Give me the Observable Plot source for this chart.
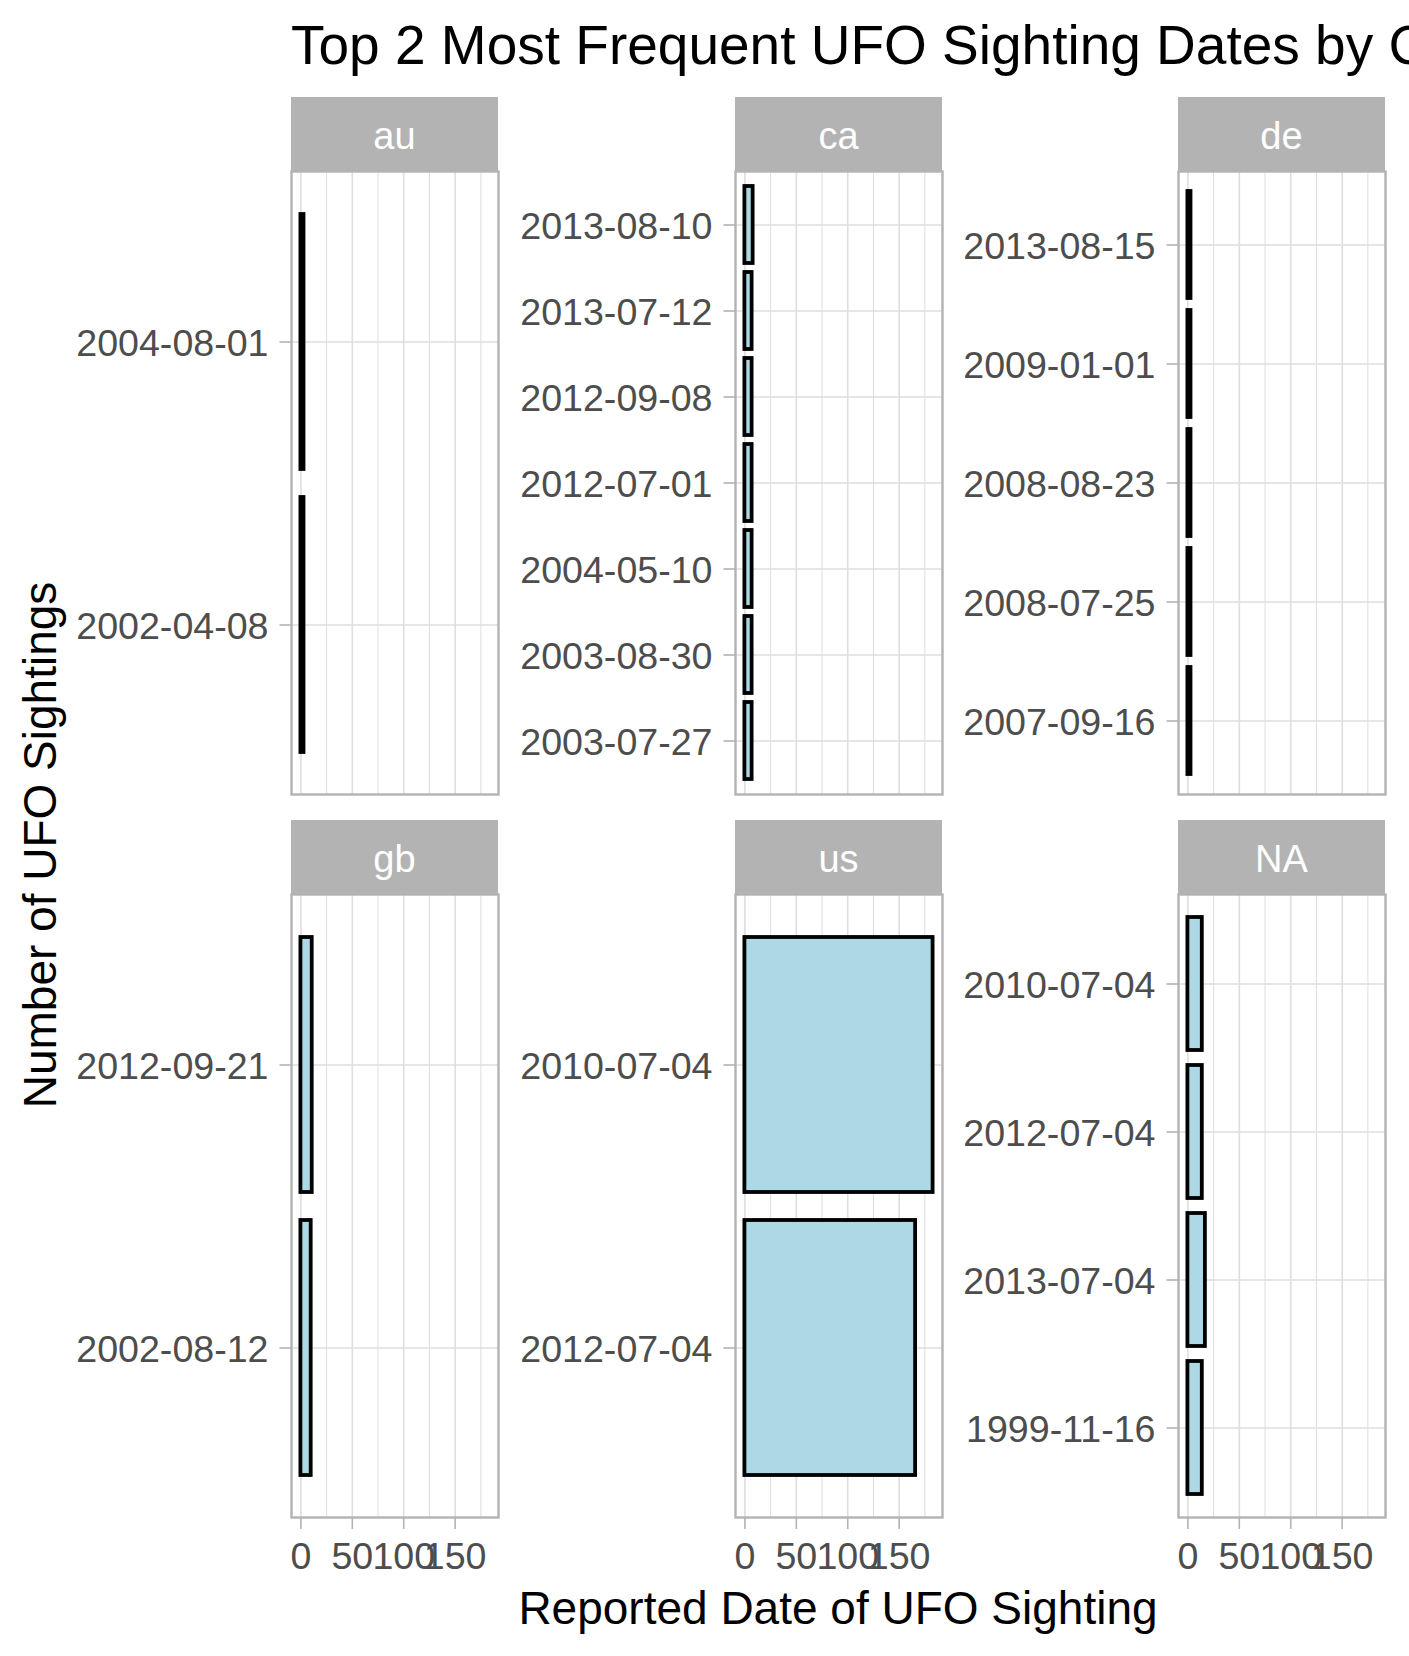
<!DOCTYPE html>
<html><head><meta charset="utf-8">
<script src="https://cdn.jsdelivr.net/npm/d3@7"></script>
<script src="https://cdn.jsdelivr.net/npm/@observablehq/plot@0.6"></script>
<style>
html,body{margin:0;padding:0;background:#fff;overflow:hidden;}
#chart{position:relative;width:1409px;height:1656px;font-family:"Liberation Sans",Arial,sans-serif;overflow:hidden;background:#fff;}
.abs{position:absolute;white-space:nowrap;line-height:1;}
.strip{position:absolute;background:#B3B3B3;color:#fff;font-size:38px;display:flex;align-items:center;justify-content:center;line-height:1;box-sizing:border-box;padding-top:4px;}
</style></head><body><div id="chart"></div>
<script>
// ---- data ----
const countries = ["au", "ca", "de", "gb", "us", "NA"];
const auDates = ["2004-08-01", "2002-04-08"];
const auCounts = [3, 3];
const caDates = ["2013-08-10", "2013-07-12", "2012-09-08", "2012-07-01", "2004-05-10", "2003-08-30", "2003-07-27"];
const caCounts = [8, 7, 7, 7, 7, 7, 7];
const deDates = ["2013-08-15", "2009-01-01", "2008-08-23", "2008-07-25", "2007-09-16"];
const deCounts = [3, 3, 3, 3, 3];
const gbDates = ["2012-09-21", "2002-08-12"];
const gbCounts = [11, 10];
const usDates = ["2010-07-04", "2012-07-04"];
const usCounts = [183, 166];
const naDates = ["2010-07-04", "2012-07-04", "2013-07-04", "1999-11-16"];
const naCounts = [14, 14, 17, 14];
const xTicks = [0, 50, 100, 150];
const xMinorTicks = [25, 75, 125, 175];

const titleText = "Top 2 Most Frequent UFO Sighting Dates by Country";
const xTitle = "Reported Date of UFO Sighting";
const yTitle = "Number of UFO Sightings";

const panelDates = [auDates, caDates, deDates, gbDates, usDates, naDates];
const panelCounts = [auCounts, caCounts, deCounts, gbCounts, usCounts, naCounts];

// ---- layout ----
const panelLeft = [291, 735, 1178];
const stripTop = [97, 820];
const stripH = 74;
const panelW = 207;
const panelH = 623;
const ML = 260, MB = 80;
const font = "Liberation Sans, Arial, sans-serif";

const chart = document.getElementById("chart");

const allMax = d3.max(panelCounts.flat());
const xDomain = [-0.05 * allMax, 1.05 * allMax];

countries.forEach((c, i) => {
  const col = i % 3, row = Math.floor(i / 3);
  const data = panelDates[i].map((d, j) => ({date: d, n: panelCounts[i][j]}));
  const pTop = stripTop[row] + stripH;
  const bottomAxis = row === 1;
  const marks = [
    Plot.gridX(xMinorTicks, {stroke: "#DEDEDE", strokeOpacity: 1, strokeWidth: 1}),
    Plot.gridX(xTicks, {stroke: "#DEDEDE", strokeOpacity: 1, strokeWidth: 1.6}),
    Plot.gridY({stroke: "#DEDEDE", strokeOpacity: 1, strokeWidth: 1.6}),
    Plot.barX(data, {x: "n", y: "date", fill: "#ADD8E6", stroke: "#000", strokeWidth: 3.8}),
    Plot.frame({stroke: "#B3B3B3", strokeWidth: 2.4}),
    Plot.axisY({tickSize: 11.5, stroke: "#B3B3B3", strokeWidth: 1.6, fill: "none", label: null}),
    Plot.axisY({tickSize: 0, tickPadding: 23, fill: "#4D4D4D", fontSize: 37.6, dy: 2, label: null})
  ];
  if (bottomAxis) {
    marks.push(
      Plot.axisX({ticks: xTicks, tickSize: 12, stroke: "#B3B3B3", strokeWidth: 1.6, fill: "none", label: null}),
      Plot.axisX({ticks: xTicks, tickSize: 0, tickPadding: 25, fill: "#4D4D4D", fontSize: 37.6, label: null})
    );
  }
  const svg = Plot.plot({
    width: ML + panelW,
    height: panelH + (bottomAxis ? MB : 0),
    marginLeft: ML, marginRight: 0, marginTop: 0,
    marginBottom: bottomAxis ? MB : 0,
    style: {background: "transparent", fontFamily: font, overflow: "visible"},
    x: bottomAxis ? {domain: xDomain, label: null} : {domain: xDomain, label: null, axis: null},
    y: {type: "band", domain: panelDates[i], paddingInner: 0.1, paddingOuter: 0.15, label: null},
    marks
  });
  svg.style.position = "absolute";
  svg.style.left = (panelLeft[col] - ML) + "px";
  svg.style.top = pTop + "px";
  svg.style.maxWidth = "none";
  chart.appendChild(svg);

  const strip = document.createElement("div");
  strip.className = "strip";
  strip.style.left = panelLeft[col] + "px";
  strip.style.top = stripTop[row] + "px";
  strip.style.width = panelW + "px";
  strip.style.height = stripH + "px";
  strip.textContent = c;
  chart.appendChild(strip);
});

const t = document.createElement("div");
t.className = "abs";
t.style.left = "291px"; t.style.top = "18px"; t.style.fontSize = "55px"; t.style.color = "#000";
t.textContent = titleText;
chart.appendChild(t);

const xt = document.createElement("div");
xt.className = "abs";
xt.style.left = (838 - 500) + "px"; xt.style.width = "1000px"; xt.style.textAlign = "center";
xt.style.top = "1585px"; xt.style.fontSize = "46px"; xt.style.color = "#000";
xt.textContent = xTitle;
chart.appendChild(xt);

const yt = document.createElement("div");
yt.className = "abs";
yt.style.left = (40 - 400) + "px"; yt.style.width = "800px"; yt.style.textAlign = "center";
yt.style.top = (845 - 23) + "px"; yt.style.height = "46px"; yt.style.fontSize = "46px"; yt.style.color = "#000";
yt.style.transform = "rotate(-90deg)";
yt.textContent = yTitle;
chart.appendChild(yt);
</script>
</body></html>
